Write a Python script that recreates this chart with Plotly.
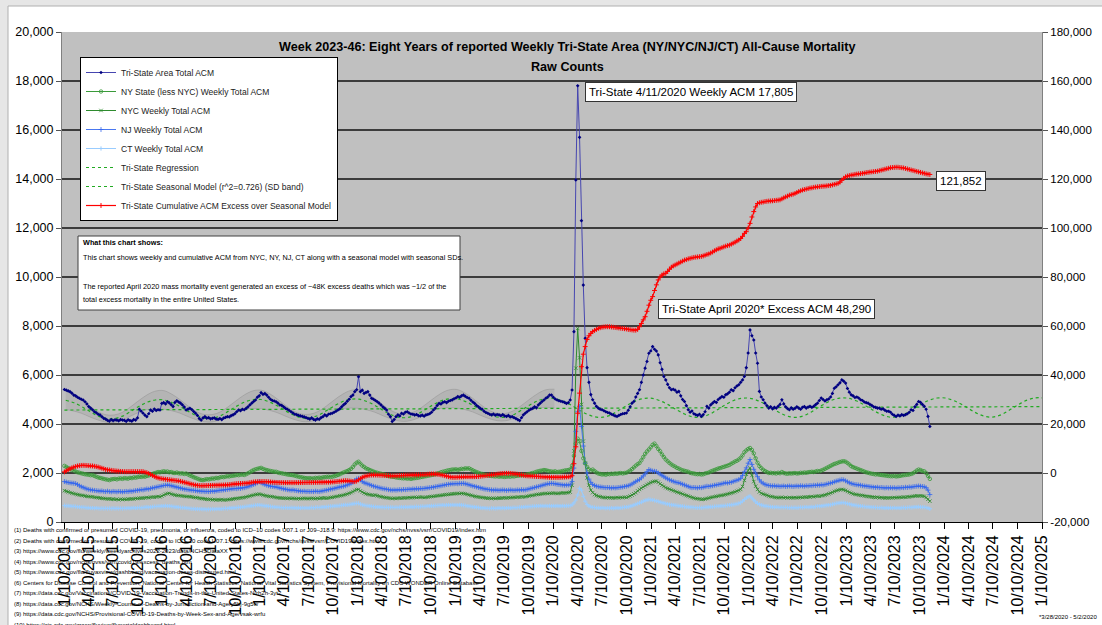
import pandas as pd
import plotly.graph_objects as go

FONT = "Liberation Sans, Arial, Helvetica, sans-serif"

# ---------------- DATA (weekly, week ending Saturdays from 2015-01-10) ----------------
first_week = "2015-01-10"

tri_state = [
    5410, 5380, 5350, 5320, 5260, 5180, 5150, 5090, 5050, 5010, 4980, 4910, 4820,
    4710, 4650, 4580, 4500, 4460, 4400, 4370, 4300, 4230, 4200, 4150, 4120, 4180,
    4140, 4170, 4160, 4130, 4180, 4160, 4150, 4110, 4170, 4140, 4120, 4180, 4160,
    4250, 4600, 4520, 4440, 4360, 4300, 4420, 4570, 4520, 4610, 4550, 4580, 4570,
    4840, 4870, 4820, 4910, 4860, 4790, 4710, 4880, 4950, 4900, 4850, 4780, 4690,
    4570, 4610, 4640, 4590, 4510, 4440, 4350, 4220, 4160, 4250, 4300, 4240, 4260,
    4210, 4230, 4250, 4200, 4190, 4220, 4180, 4240, 4270, 4300, 4290, 4340, 4370,
    4420, 4500, 4570, 4540, 4600, 4580, 4640, 4700, 4780, 4850, 4920, 4980, 5090,
    5150, 5280, 5210, 5240, 5180, 5090, 5010, 4960, 4940, 4910, 4850, 4780, 4760,
    4700, 4640, 4600, 4550, 4500, 4450, 4400, 4380, 4350, 4330, 4310, 4290, 4260,
    4230, 4200, 4250, 4190, 4160, 4210, 4190, 4260, 4300, 4370, 4330, 4400, 4420,
    4440, 4480, 4520, 4570, 4620, 4700, 4780, 4840, 4930, 5010, 5120, 5180, 5320,
    5400, 5930, 5320, 5380, 5250, 5290, 5320, 5180, 5050, 5010, 4960, 4910, 4850,
    4780, 4700, 4640, 4570, 4400, 4300, 4100, 4180, 4300, 4370, 4330, 4440, 4410,
    4480, 4500, 4450, 4410, 4400, 4370, 4390, 4340, 4330, 4360, 4320, 4370, 4390,
    4420, 4480, 4570, 4650, 4760, 4840, 4820, 4880, 4910, 4870, 4930, 4960, 4980,
    5030, 5060, 5120, 5090, 5150, 5180, 5130, 5080, 5050, 4970, 4900, 4840, 4760,
    4700, 4640, 4600, 4520, 4470, 4440, 4400, 4370, 4410, 4360, 4390, 4370, 4340,
    4380, 4330, 4310, 4350, 4290, 4300, 4260, 4220, 4180, 4140, 4260, 4370, 4440,
    4500, 4560, 4610, 4640, 4700, 4660, 4780, 4850, 4920, 4980, 5050, 5100, 5180,
    5180, 5090, 5020, 4980, 4950, 4930, 4910, 4880, 4840, 4870, 4980, 5390, 7770,
    13960, 17805, 15700, 12300, 9670, 7500, 6300, 5700, 5200, 4990, 4850, 4720, 4650,
    4600, 4580, 4540, 4500, 4470, 4450, 4400, 4370, 4330, 4310, 4350, 4390, 4420,
    4430, 4450, 4560, 4700, 4850, 4920, 5100, 5250, 5400, 5700, 6000, 6280, 6550,
    6890, 6980, 7160, 7050, 6980, 6820, 6500, 6230, 5940, 5800, 5620, 5480, 5400,
    5420, 5380, 5300, 5330, 5150, 5000, 4920, 4750, 4580, 4480, 4530, 4420, 4380,
    4350, 4400, 4310, 4380, 4500, 4720, 4650, 4780, 4850, 4920, 4880, 5000, 5060,
    5120, 5090, 5190, 5230, 5300, 5400, 5360, 5480, 5550, 5600, 5700, 5800, 5940,
    6300, 6900, 7840, 7600, 7430, 6900, 6480, 5330, 5100, 4990, 4850, 4750, 4650,
    4700, 4620, 4680, 4650, 4720, 4800, 4990, 4820, 4700, 4630, 4580, 4660, 4600,
    4640, 4700, 4650, 4600, 4680, 4710, 4650, 4690, 4720, 4680, 4720, 4790, 4850,
    4960, 5060, 5000, 4940, 4990, 5020, 5100, 5250, 5460, 5520, 5600, 5680, 5800, 5750,
    5670, 5450, 5300, 5190, 5150, 5080, 5100, 5060, 4990, 4960, 4900, 4870, 4850,
    4800, 4760, 4700, 4680, 4650, 4650, 4600, 4620, 4560, 4520, 4520, 4480, 4400,
    4350, 4310, 4360, 4330, 4380, 4350, 4380, 4420, 4480, 4580, 4550, 4700, 4800,
    4920, 4880, 4800, 4720, 4600, 4310, 3900,
]

ny_less_nyc = [
    2290, 2250, 2200, 2160, 2120, 2100, 2060, 2030, 2010, 1990, 1970, 1950, 1940,
    1930, 1910, 1920, 1880, 1850, 1820, 1800, 1780, 1760, 1740, 1730, 1710, 1740,
    1750, 1760, 1740, 1770, 1780, 1760, 1790, 1780, 1770, 1800, 1790, 1820, 1810,
    1830, 1850, 1840, 1860, 1850, 1880, 1900, 1940, 1960, 1990, 2010, 2040, 2030,
    2050, 2070, 2050, 2060, 2030, 2040, 2010, 2000, 2020, 1990, 1980, 1990, 1960,
    1980, 1940, 1900, 1870, 1830, 1800, 1770, 1740, 1720, 1710, 1730, 1750, 1740,
    1760, 1780, 1770, 1800, 1790, 1820, 1840, 1830, 1850, 1870, 1860, 1880, 1890,
    1900, 1920, 1910, 1930, 1940, 1920, 1950, 1990, 2030, 2080, 2120, 2150, 2170,
    2190, 2210, 2170, 2140, 2120, 2100, 2080, 2070, 2050, 2050, 2020, 2000, 1990,
    1970, 1960, 1940, 1930, 1920, 1910, 1890, 1870, 1850, 1830, 1820, 1800, 1790,
    1780, 1790, 1770, 1780, 1800, 1790, 1810, 1800, 1820, 1830, 1840, 1850, 1840,
    1850, 1870, 1890, 1920, 1950, 1990, 2020, 2050, 2080, 2120, 2170, 2250, 2350,
    2420, 2460, 2380, 2300, 2250, 2190, 2160, 2120, 2090, 2060, 2030, 2010, 1990,
    1970, 1950, 1930, 1900, 1880, 1860, 1850, 1840, 1820, 1810, 1800, 1790, 1780,
    1790, 1770, 1780, 1760, 1780, 1790, 1800, 1810, 1830, 1840, 1860, 1870, 1890,
    1900, 1920, 1930, 1950, 1980, 2000, 2030, 2050, 2070, 2090, 2110, 2120, 2140,
    2140, 2150, 2130, 2150, 2170, 2160, 2190, 2180, 2190, 2150, 2110, 2070, 2040,
    2010, 1980, 1960, 1930, 1920, 1900, 1890, 1880, 1870, 1860, 1870, 1850, 1860,
    1850, 1840, 1850, 1860, 1850, 1870, 1860, 1880, 1890, 1900, 1910, 1920, 1920,
    1940, 1960, 1980, 2000, 2020, 2050, 2070, 2090, 2100, 2120, 2110, 2090, 2070,
    2060, 2050, 2070, 2040, 2050, 2060, 2080, 2100, 2110, 2120, 2150, 2300, 2700,
    3200, 3400, 3300, 2900, 2600, 2400, 2250, 2150, 2100, 2140, 2080, 2020, 1980,
    1960, 1940, 1950, 1930, 1960, 1950, 1970, 1960, 1980, 1970, 1990, 2000, 1980,
    2000, 2010, 2050, 2100, 2160, 2230, 2300, 2360, 2410, 2520, 2650, 2780, 2880,
    2960, 3050, 3150, 3200, 3100, 2980, 2890, 2760, 2650, 2550, 2480, 2410, 2350,
    2300, 2260, 2210, 2180, 2140, 2110, 2090, 2070, 2050, 2010, 1990, 1980, 1960,
    1950, 1960, 1940, 1950, 1980, 2000, 2020, 2060, 2090, 2120, 2150, 2180, 2200,
    2230, 2250, 2280, 2300, 2330, 2380, 2420, 2470, 2500, 2550, 2620, 2720, 2850,
    2920, 2980, 3020, 2940, 2800, 2600, 2420, 2280, 2200, 2130, 2080, 2040, 2000,
    2010, 1990, 2000, 1980, 2010, 1990, 2040, 2000, 1980, 1970, 1990, 1980, 1990,
    2000, 1980, 1990, 2010, 2000, 2020, 2010, 2030, 2040, 2050, 2040, 2060, 2080,
    2070, 2100, 2130, 2170, 2210, 2250, 2290, 2330, 2370, 2390, 2420, 2450, 2470, 2480,
    2460, 2410, 2350, 2280, 2240, 2210, 2180, 2150, 2120, 2090, 2060, 2030, 2010,
    1990, 1970, 1960, 1940, 1950, 1930, 1920, 1910, 1900, 1890, 1880, 1870, 1870,
    1880, 1860, 1870, 1880, 1900, 1910, 1920, 1930, 1940, 1960, 1990, 2040, 2100,
    2140, 2120, 2080, 2070, 2000, 1880, 1760,
]

nyc = [
    1280, 1250, 1230, 1200, 1180, 1160, 1140, 1120, 1100, 1090, 1080, 1060, 1050,
    1040, 1030, 1030, 1010, 1000, 990, 980, 970, 960, 950, 940, 950, 930,
    940, 920, 930, 910, 930, 920, 930, 920, 940, 930, 950, 940, 960,
    960, 970, 980, 970, 990, 1000, 990, 1010, 1020, 1010, 1030, 1040, 1030,
    1060, 1100, 1140, 1160, 1170, 1140, 1120, 1100, 1090, 1080, 1070, 1060, 1050,
    1040, 1040, 1030, 1030, 1010, 1000, 990, 970, 960, 950, 940, 930, 920,
    920, 910, 920, 900, 910, 900, 920, 900, 900, 910, 920, 930, 940,
    950, 960, 970, 980, 990, 1000, 1020, 1040, 1060, 1080, 1100, 1120, 1130,
    1140, 1120, 1100, 1080, 1060, 1050, 1040, 1030, 1020, 1000, 990, 980, 980,
    970, 970, 960, 970, 960, 970, 960, 950, 960, 950, 960, 970, 960,
    950, 960, 970, 960, 950, 970, 960, 980, 970, 990, 970, 980, 1000,
    1010, 1020, 1040, 1050, 1070, 1080, 1100, 1120, 1140, 1170, 1200, 1240, 1290,
    1320, 1330, 1270, 1220, 1180, 1150, 1130, 1110, 1100, 1090, 1100, 1070, 1050,
    1030, 1020, 1000, 990, 980, 970, 960, 970, 960, 970, 980, 970, 990,
    980, 990, 1000, 990, 1000, 1010, 1000, 1010, 1020, 1010, 1000, 1010, 1020,
    1030, 1040, 1050, 1060, 1070, 1080, 1090, 1100, 1110, 1120, 1130, 1140, 1150,
    1150, 1160, 1170, 1160, 1170, 1160, 1150, 1130, 1110, 1090, 1070, 1050, 1030,
    1020, 1010, 1000, 990, 980, 970, 970, 960, 970, 960, 970, 980, 970,
    980, 990, 980, 1000, 990, 1000, 1010, 1000, 1020, 1010, 1030, 1020, 1030,
    1050, 1060, 1080, 1090, 1100, 1120, 1130, 1140, 1150, 1160, 1170, 1160, 1170,
    1170, 1180, 1170, 1160, 1170, 1180, 1190, 1180, 1190, 1200, 1220, 1500, 2900,
    6280, 7900, 6700, 4800, 3300, 2400, 1800, 1500, 1300, 1200, 1120, 1080, 1050,
    1030, 1010, 1000, 990, 1000, 990, 990, 980, 990, 1000, 990, 1000, 1000,
    1010, 1000, 1030, 1060, 1100, 1150, 1200, 1270, 1330, 1380, 1430, 1480, 1530,
    1570, 1610, 1640, 1660, 1670, 1620, 1560, 1500, 1450, 1400, 1370, 1340, 1310,
    1280, 1250, 1220, 1200, 1170, 1140, 1110, 1080, 1060, 1030, 1000, 980, 960,
    950, 940, 920, 930, 940, 960, 980, 1000, 1020, 1030, 1050, 1060, 1080,
    1090, 1100, 1120, 1140, 1160, 1180, 1200, 1230, 1260, 1290, 1330, 1450, 1700,
    1950, 2100, 2210, 1900, 1650, 1460, 1330, 1230, 1170, 1140, 1120, 1090, 1060,
    1040, 1030, 1010, 1000, 990, 1000, 1010, 990, 1000, 990, 1000, 990, 990,
    1000, 990, 1000, 1010, 1000, 1020, 1010, 1030, 1020, 1040, 1030, 1050, 1060,
    1050, 1070, 1080, 1100, 1120, 1150, 1180, 1210, 1250, 1280, 1300, 1320, 1330, 1320,
    1290, 1250, 1210, 1180, 1150, 1130, 1120, 1100, 1090, 1080, 1060, 1050, 1040,
    1030, 1020, 1010, 1000, 1010, 990, 1000, 990, 980, 990, 980, 990, 990,
    1000, 990, 1000, 1010, 1000, 1020, 1010, 1030, 1020, 1040, 1050, 1060, 1070,
    1060, 1070, 1060, 1050, 1000, 930, 850,
]

nj = [
    1650, 1630, 1610, 1600, 1590, 1580, 1570, 1530, 1480, 1440, 1410, 1380, 1350,
    1330, 1310, 1300, 1290, 1280, 1270, 1260, 1270, 1250, 1240, 1260, 1240, 1230,
    1250, 1240, 1230, 1250, 1240, 1230, 1240, 1250, 1240, 1260, 1250, 1270, 1280,
    1290, 1300, 1320, 1310, 1330, 1350, 1340, 1370, 1390, 1400, 1420, 1440, 1450,
    1470, 1490, 1500, 1510, 1500, 1480, 1460, 1440, 1420, 1400, 1380, 1360, 1340,
    1330, 1320, 1310, 1300, 1290, 1280, 1270, 1260, 1250, 1260, 1240, 1250, 1240,
    1250, 1260, 1250, 1270, 1280, 1290, 1300, 1310, 1320, 1330, 1340, 1350, 1360,
    1370, 1360, 1380, 1370, 1390, 1400, 1420, 1440, 1470, 1500, 1530, 1560, 1600,
    1650, 1600, 1560, 1530, 1500, 1480, 1460, 1450, 1440, 1430, 1410, 1390, 1370,
    1350, 1340, 1320, 1310, 1300, 1310, 1290, 1280, 1270, 1260, 1250, 1260, 1240,
    1250, 1240, 1250, 1240, 1260, 1250, 1240, 1260, 1270, 1290, 1300, 1320, 1340,
    1350, 1370, 1390, 1410, 1430, 1440, 1460, 1480, 1510, 1540, 1580, 1620, 1700,
    1760, 1780, 1720, 1650, 1600, 1580, 1550, 1520, 1490, 1460, 1440, 1420, 1400,
    1380, 1360, 1350, 1340, 1320, 1310, 1300, 1310, 1300, 1310, 1320, 1310, 1330,
    1320, 1330, 1340, 1330, 1350, 1340, 1360, 1350, 1370, 1360, 1370, 1380, 1390,
    1400, 1410, 1420, 1440, 1450, 1470, 1480, 1500, 1510, 1530, 1540, 1550, 1560,
    1560, 1570, 1560, 1580, 1570, 1580, 1560, 1540, 1520, 1490, 1470, 1450, 1430,
    1410, 1390, 1370, 1350, 1340, 1330, 1320, 1310, 1300, 1310, 1300, 1290, 1300,
    1310, 1300, 1290, 1300, 1310, 1300, 1290, 1300, 1310, 1300, 1320, 1310, 1310,
    1330, 1350, 1370, 1390, 1410, 1430, 1450, 1470, 1500, 1520, 1540, 1560, 1570,
    1580, 1570, 1560, 1540, 1530, 1520, 1510, 1500, 1510, 1510, 1520, 1650, 2200,
    3700, 4500, 4720, 3900, 3100, 2400, 2000, 1750, 1620, 1530, 1490, 1460, 1440,
    1430, 1420, 1410, 1400, 1410, 1400, 1390, 1400, 1390, 1400, 1410, 1420, 1430,
    1450, 1460, 1480, 1510, 1550, 1600, 1650, 1700, 1730, 1800, 1880, 1960, 2050,
    2140, 2110, 2080, 2070, 2060, 2000, 1950, 1900, 1850, 1800, 1760, 1720, 1690,
    1660, 1630, 1610, 1600, 1570, 1540, 1510, 1480, 1450, 1420, 1400, 1410, 1400,
    1390, 1410, 1400, 1420, 1440, 1460, 1450, 1470, 1480, 1500, 1510, 1530, 1540,
    1560, 1580, 1600, 1590, 1610, 1620, 1650, 1680, 1700, 1730, 1780, 1900, 2050,
    2210, 2400, 2550, 2350, 2150, 2000, 1850, 1720, 1630, 1580, 1530, 1510, 1490,
    1480, 1470, 1480, 1460, 1470, 1450, 1460, 1470, 1450, 1460, 1470, 1460, 1450,
    1460, 1470, 1460, 1480, 1470, 1460, 1480, 1470, 1490, 1480, 1500, 1490, 1510,
    1500, 1520, 1510, 1530, 1550, 1570, 1590, 1610, 1640, 1670, 1690, 1710, 1730, 1720,
    1680, 1640, 1600, 1570, 1550, 1530, 1520, 1510, 1500, 1480, 1470, 1460, 1450,
    1440, 1430, 1420, 1410, 1420, 1400, 1410, 1400, 1390, 1400, 1390, 1400, 1390,
    1400, 1380, 1400, 1390, 1410, 1400, 1420, 1410, 1430, 1420, 1440, 1450, 1460,
    1470, 1460, 1450, 1440, 1400, 1300, 1120,
]

ct = [
    670, 660, 660, 650, 640, 640, 630, 620, 610, 600, 600, 590, 580,
    580, 570, 570, 560, 570, 560, 550, 560, 550, 560, 550, 560, 550,
    560, 550, 560, 550, 560, 550, 560, 560, 570, 560, 570, 580, 570,
    580, 590, 580, 590, 600, 610, 600, 610, 620, 630, 630, 640, 640,
    650, 650, 660, 650, 650, 640, 630, 620, 610, 600, 590, 580, 580,
    570, 560, 550, 540, 540, 530, 530, 520, 530, 520, 520, 510, 520,
    520, 530, 520, 530, 540, 530, 540, 550, 560, 550, 570, 570, 580,
    580, 590, 600, 600, 610, 620, 630, 640, 650, 660, 670, 680, 690,
    690, 680, 670, 660, 650, 640, 630, 620, 610, 600, 600, 590, 590,
    580, 590, 580, 580, 590, 580, 580, 570, 580, 570, 580, 570, 580,
    570, 580, 590, 580, 590, 600, 590, 600, 610, 610, 620, 630, 640,
    640, 650, 660, 660, 670, 680, 690, 700, 700, 710, 720, 740, 750,
    760, 760, 730, 700, 680, 670, 660, 650, 640, 630, 620, 610, 610,
    600, 600, 590, 600, 590, 600, 600, 590, 600, 590, 600, 610, 600,
    610, 600, 610, 620, 610, 620, 630, 620, 630, 640, 630, 640, 650,
    650, 660, 660, 670, 670, 680, 680, 690, 680, 690, 700, 690, 700,
    690, 700, 690, 700, 690, 680, 670, 650, 640, 630, 620, 610, 600,
    590, 580, 570, 570, 560, 560, 550, 560, 560, 550, 560, 570, 560,
    570, 560, 570, 580, 570, 580, 590, 580, 590, 600, 600, 610, 620,
    620, 630, 630, 640, 640, 650, 650, 660, 660, 650, 660, 650, 660,
    650, 660, 650, 660, 650, 650, 660, 650, 660, 660, 670, 700, 780,
    900, 1100, 1374, 1300, 1050, 850, 720, 650, 620, 600, 590, 580, 580,
    570, 580, 570, 560, 570, 560, 570, 560, 570, 580, 570, 580, 590,
    600, 610, 620, 640, 660, 690, 720, 750, 780, 810, 850, 880, 900,
    920, 910, 900, 880, 860, 840, 810, 790, 770, 750, 730, 710, 700,
    690, 680, 670, 660, 650, 640, 630, 620, 610, 600, 600, 590, 590,
    580, 590, 580, 590, 600, 600, 610, 620, 620, 630, 640, 640, 650,
    660, 660, 670, 680, 690, 700, 710, 720, 740, 760, 790, 850, 920,
    980, 1030, 1060, 980, 900, 820, 760, 720, 690, 670, 650, 640, 630,
    620, 610, 600, 610, 600, 590, 600, 590, 600, 590, 580, 590, 580,
    590, 580, 590, 600, 590, 600, 610, 600, 610, 620, 610, 630, 640,
    640, 650, 660, 670, 680, 690, 700, 720, 740, 760, 770, 780, 790, 790,
    770, 750, 730, 710, 690, 680, 670, 660, 650, 640, 630, 620, 620,
    610, 600, 600, 590, 590, 580, 590, 580, 570, 580, 570, 580, 570,
    580, 570, 580, 570, 580, 590, 580, 590, 600, 590, 600, 610, 610,
    620, 610, 600, 600, 590, 570, 540,
]

cum_excess = [
    450, 900, 1350, 1750, 2100, 2400, 2650, 2850, 3000, 3100, 3130, 3100, 3050,
    2980, 2900, 2860, 2750, 2600, 2420, 2200, 1950, 1700, 1450, 1300, 1225, 1100,
    980, 880, 800, 720, 640, 590, 560, 540, 560, 550, 580, 560, 570,
    560, 540, 570, 560, 300, 130, -200, -600, -1000, -1400, -1750, -2000, -2180,
    -2300, -2450, -2550, -2650, -2750, -2850, -2950, -3050, -3130, -3250, -3400, -3600, -3800,
    -4000, -4200, -4400, -4600, -4800, -4950, -5050, -5120, -5170, -5170, -5150, -5130, -5100,
    -5080, -5050, -5020, -5000, -4980, -4950, -4930, -4900, -4880, -4820, -4750, -4650, -4550,
    -4450, -4380, -4330, -4280, -4250, -4220, -4200, -4100, -3950, -3800, -3680, -3600, -3560,
    -3540, -3520, -3500, -3510, -3540, -3600, -3680, -3750, -3800, -3850, -3880, -3900, -3920,
    -3940, -3950, -3950, -3940, -3950, -3960, -3950, -3940, -3930, -3920, -3900, -3880, -3870,
    -3860, -3850, -3840, -3830, -3820, -3810, -3800, -3780, -3760, -3750, -3750, -3740, -3700,
    -3650, -3600, -3520, -3450, -3380, -3300, -3200, -3130, -3180, -3250, -3350, -3450, -3540,
    -3300, -2800, -2300, -1770, -1500, -1250, -1050, -900, -850, -820, -830, -850, -880,
    -920, -960, -1000, -1050, -1100, -1180, -1225, -1200, -1150, -1100, -1050, -1000, -950,
    -900, -870, -840, -820, -810, -800, -790, -760, -720, -680, -640, -580, -520,
    -470, -430, -410, -430, -500, -600, -750, -900, -1100, -1300, -1500, -1650, -1770,
    -1780, -1760, -1700, -1650, -1600, -1560, -1520, -1500, -1500, -1490, -1500, -1480, -1450,
    -1400, -1330, -1250, -1150, -1050, -950, -860, -780, -700, -600, -480, -360, -250,
    -180, -150, -140, -140, -160, -220, -300, -400, -520, -650, -800, -950, -1090,
    -1150, -1200, -1250, -1300, -1350, -1400, -1450, -1500, -1550, -1600, -1650, -1700, -1730,
    -1760, -1770, -1770, -1760, -1770, -1740, -1700, -1650, -1600, -1550, -1500, -1100, 3800,
    10700, 24400, 32600, 43400, 48500, 51600, 54500, 56000, 57000, 57700, 58200, 58600, 59000,
    59300, 59500, 59600, 59700, 59700, 59700, 59600, 59500, 59400, 59300, 59200, 59100, 59000,
    58900, 58800, 58600, 58500, 58400, 58300, 58300, 58600, 59700, 61000, 62500, 63800, 66000,
    68500, 70500, 72000, 74500, 76800, 78800, 80000, 80800, 81300, 81500, 82300, 83200, 84000,
    84500, 84900, 85300, 85700, 86100, 86500, 86900, 87100, 87400, 87600, 87800, 88000, 88100,
    88200, 88300, 88400, 88600, 88900, 89200, 89400, 89800, 90200, 90700, 91100, 91500, 91700,
    92000, 92300, 92600, 92800, 93000, 93400, 93800, 94200, 94700, 95100, 95700, 96600, 97800,
    98500, 100000, 101900, 104500, 106700, 108600, 110000, 110300, 110500, 110600, 110800, 110900, 111000,
    111050, 111100, 111200, 111300, 111400, 111500, 111900, 112300, 112700, 113000, 113400, 113600, 113800,
    114100, 114500, 114900, 115200, 115500, 115700, 115900, 116100, 116300, 116400, 116600, 116700, 116800,
    116900, 117000, 117050, 117100, 117200, 117300, 117400, 117600, 117800, 118000, 118200, 118700, 119500, 120300,
    120900, 121200, 121400, 121600, 121700, 121900, 122000, 122100, 122200, 122300, 122400, 122600, 122700,
    122800, 122900, 123000, 123100, 123200, 123400, 123600, 123800, 124000, 124200, 124400, 124600, 124700,
    124750, 124800, 124800, 124700, 124600, 124500, 124300, 124100, 123900, 123700, 123500, 123300, 123100,
    122900, 122700, 122500, 122300, 122100, 121950, 121852,
]

# Seasonal model: monthly (mid-month) values, Jan 2015 .. Jan 2025
model_first_month = "2015-01-01"
seasonal_model = [
    4970, 4865, 4715, 4510, 4335, 4225, 4220, 4320, 4515, 4715, 4890, 4980,
    4985, 4880, 4730, 4525, 4350, 4240, 4235, 4335, 4530, 4730, 4905, 4995,
    5000, 4895, 4745, 4540, 4365, 4255, 4250, 4350, 4545, 4745, 4920, 5010,
    5015, 4910, 4760, 4555, 4380, 4270, 4265, 4365, 4560, 4760, 4935, 5025,
    5030, 4925, 4775, 4570, 4395, 4285, 4280, 4380, 4575, 4775, 4950, 5040,
    5040, 4935, 4785, 4580, 4405, 4290, 4280, 4380, 4580, 4780, 4955, 5045,
    5045, 4940, 4790, 4585, 4410, 4290, 4280, 4385, 4585, 4785, 4960, 5050,
    5050, 4945, 4795, 4590, 4410, 4290, 4280, 4390, 4590, 4790, 4965, 5055,
    5055, 4950, 4800, 4595, 4415, 4295, 4285, 4395, 4595, 4795, 4970, 5060,
    5060, 4955, 4805, 4600, 4420, 4300, 4290, 4400, 4600, 4800, 4975, 5065,
    5065,
]
# Seasonal standard deviation by calendar month (Jan..Dec)
seasonal_sd = [380, 340, 280, 220, 170, 150, 150, 160, 190, 240, 300, 360]
sd_band_months = 61  # SD band drawn Jan 2015 .. Jan 2020

regression_dates = ["2015-01-10", "2025-01-10"]
regression_vals = [4570, 4710]

x_tick_dates = [
    "2015-01-10", "2015-04-10", "2015-07-10", "2015-10-10",
    "2016-01-10", "2016-04-10", "2016-07-10", "2016-10-10",
    "2017-01-10", "2017-04-10", "2017-07-10", "2017-10-10",
    "2018-01-10", "2018-04-10", "2018-07-10", "2018-10-10",
    "2019-01-10", "2019-04-10", "2019-07-10", "2019-10-10",
    "2020-01-10", "2020-04-10", "2020-07-10", "2020-10-10",
    "2021-01-10", "2021-04-10", "2021-07-10", "2021-10-10",
    "2022-01-10", "2022-04-10", "2022-07-10", "2022-10-10",
    "2023-01-10", "2023-04-10", "2023-07-10", "2023-10-10",
    "2024-01-10", "2024-04-10", "2024-07-10", "2024-10-10",
    "2025-01-10",
]
x_tick_text = [
    "1/10/2015", "4/10/2015", "7/10/2015", "10/10/2015",
    "1/10/2016", "4/10/2016", "7/10/2016", "10/10/2016",
    "1/10/2017", "4/10/2017", "7/10/2017", "10/10/2017",
    "1/10/2018", "4/10/2018", "7/10/2018", "10/10/2018",
    "1/10/2019", "4/10/2019", "7/10/2019", "10/10/2019",
    "1/10/2020", "4/10/2020", "7/10/2020", "10/10/2020",
    "1/10/2021", "4/10/2021", "7/10/2021", "10/10/2021",
    "1/10/2022", "4/10/2022", "7/10/2022", "10/10/2022",
    "1/10/2023", "4/10/2023", "7/10/2023", "10/10/2023",
    "1/10/2024", "4/10/2024", "7/10/2024", "10/10/2024",
    "1/10/2025",
]
left_ticks = [0, 2000, 4000, 6000, 8000, 10000, 12000, 14000, 16000, 18000, 20000]
left_text = ["0", "2,000", "4,000", "6,000", "8,000", "10,000", "12,000",
             "14,000", "16,000", "18,000", "20,000"]
right_ticks = [-20000, 0, 20000, 40000, 60000, 80000, 100000, 120000, 140000, 160000, 180000]
right_text = ["-20,000", "0", "20,000", "40,000", "60,000", "80,000", "100,000",
              "120,000", "140,000", "160,000", "180,000"]

peak_date = "2020-04-11"
peak_value = 17805

footnotes = [
    "(1) Deaths with confirmed or presumed COVID-19, pneumonia, or influenza, coded to ICD\u201310 codes U07.1 or J09\u2013J18.9: https://www.cdc.gov/nchs/nvss/vsrr/COVID19/index.htm",
    "(2) Deaths with confirmed or presumed COVID-19, coded to ICD\u201310 code U07.1: https://www.cdc.gov/nchs/nvss/vsrr/COVID19/index.htm",
    "(3) https://www.cdc.gov/flu/weekly/weeklyarchives2022-2023/data/NCHSDataXX",
    "(4) https://www.cdc.gov/nchs/nvss/vsrr/covid19/excess_deaths.htm",
    "(5) https://www.cdc.gov/flu/fluvaxview/dashboard/vaccination-doses-distributed.html",
    "(6) Centers for Disease Control and Prevention, National Center for Health Statistics. National Vital Statistics System, Provisional Mortality on CDC WONDER Online Database",
    "(7) https://data.cdc.gov/Vaccinations/COVID-19-Vaccination-Trends-in-the-United-States-N/rh2h-3yt2",
    "(8) https://data.cdc.gov/NCHS/Weekly-Counts-of-Deaths-by-Jurisdiction-and-Age/y5bj-9g5w",
    "(9) https://data.cdc.gov/NCHS/Provisional-COVID-19-Deaths-by-Week-Sex-and-Age/vsak-wrfu",
    "(10) https://gis.cdc.gov/grasp/fluview/fluportaldashboard.html",
]

# ---------------- LAYOUT GEOMETRY ----------------
W, H = 1102, 625
ML, MR, MT, MB = 62, 60, 32, 103
PW, PH = W - ML - MR, H - MT - MB


def pxx(px):
    return (px - ML) / PW


def pxy(py):
    return (MT + PH - py) / PH


def weeks(series):
    return pd.date_range(first_week, periods=len(series), freq="7D")


model_dates = pd.date_range(model_first_month, periods=len(seasonal_model), freq="MS") + pd.Timedelta(days=14)
band_dates = model_dates[:sd_band_months]
band_upper = [seasonal_model[k] + seasonal_sd[d.month - 1] for k, d in enumerate(band_dates)]
band_lower = [seasonal_model[k] - seasonal_sd[d.month - 1] for k, d in enumerate(band_dates)]

fig = go.Figure()

# SD band
fig.add_trace(go.Scatter(x=band_dates, y=band_upper, mode="lines", line=dict(width=0.6, color="rgba(130,130,130,0.6)", shape="spline"),
                         showlegend=False, hoverinfo="skip"))
fig.add_trace(go.Scatter(x=band_dates, y=band_lower, mode="lines", line=dict(width=0.6, color="rgba(130,130,130,0.6)", shape="spline"),
                         fill="tonexty", fillcolor="rgba(150,150,150,0.28)", showlegend=False, hoverinfo="skip"))

fig.add_trace(go.Scatter(x=model_dates, y=seasonal_model, mode="lines",
                         name="Tri-State Seasonal Model (r^2=0.726) (SD band)",
                         line=dict(color="#22aa22", width=1.2, dash="dot", shape="spline"), legendrank=7))
fig.add_trace(go.Scatter(x=regression_dates, y=regression_vals, mode="lines",
                         name="Tri-State Regression",
                         line=dict(color="#22aa22", width=1.2, dash="dot"), legendrank=6))

fig.add_trace(go.Scatter(x=weeks(ct), y=ct, mode="lines+markers", name="CT Weekly Total ACM",
                         line=dict(color="#99ccff", width=1),
                         marker=dict(symbol="cross-thin-open", size=3, color="#99ccff", line=dict(width=1, color="#99ccff")),
                         legendrank=5))
fig.add_trace(go.Scatter(x=weeks(nyc), y=nyc, mode="lines+markers", name="NYC Weekly Total ACM",
                         line=dict(color="#2e8b2e", width=1),
                         marker=dict(symbol="x-thin-open", size=3.5, color="#2e8b2e", line=dict(width=0.8, color="#2e8b2e")),
                         legendrank=3))
fig.add_trace(go.Scatter(x=weeks(nj), y=nj, mode="lines+markers", name="NJ Weekly Total ACM",
                         line=dict(color="#4a78f0", width=1),
                         marker=dict(symbol="cross-thin-open", size=3.5, color="#3366ee", line=dict(width=0.8, color="#3366ee")),
                         legendrank=4))
fig.add_trace(go.Scatter(x=weeks(ny_less_nyc), y=ny_less_nyc, mode="lines+markers",
                         name="NY State (less NYC) Weekly Total ACM",
                         line=dict(color="#3a9a3a", width=1),
                         marker=dict(symbol="circle-open", size=3.5, color="#3a9a3a", line=dict(width=0.8, color="#3a9a3a")),
                         legendrank=2))
fig.add_trace(go.Scatter(x=weeks(cum_excess), y=cum_excess, mode="lines+markers", yaxis="y2",
                         name="Tri-State Cumulative ACM Excess over Seasonal Model",
                         line=dict(color="#ff0000", width=1.2),
                         marker=dict(symbol="cross-thin-open", size=3.5, color="#ff0000", line=dict(width=1, color="#ff0000")),
                         legendrank=8))
fig.add_trace(go.Scatter(x=weeks(tri_state), y=tri_state, mode="lines+markers",
                         name="Tri-State Area Total ACM",
                         line=dict(color="#4646b0", width=1),
                         marker=dict(symbol="diamond", size=2.8, color="#000080"),
                         legendrank=1))

shapes = [
    dict(type="rect", xref="paper", yref="paper", x0=pxx(8), x1=pxx(W + 10), y0=pxy(H + 10), y1=pxy(6),
         fillcolor="white", line=dict(color="#b0b0b0", width=1), layer="below"),
    dict(type="rect", xref="paper", yref="paper", x0=0, x1=1, y0=0, y1=1,
         fillcolor="#c0c0c0", line=dict(width=0), layer="below"),
    dict(type="rect", xref="paper", yref="paper", x0=pxx(78), x1=pxx(460), y0=pxy(310), y1=pxy(236),
         fillcolor="white", line=dict(color="#404040", width=1), layer="above"),
]

annotations = [
    dict(xref="paper", yref="paper", x=pxx(567), y=pxy(47), showarrow=False, xanchor="center", yanchor="middle",
         text="<b>Week 2023-46: Eight Years of reported Weekly Tri-State Area (NY/NYC/NJ/CT) All-Cause Mortality</b>",
         font=dict(family=FONT, size=12.6, color="black")),
    dict(xref="paper", yref="paper", x=pxx(567), y=pxy(67), showarrow=False, xanchor="center", yanchor="middle",
         text="<b>Raw Counts</b>", font=dict(family=FONT, size=12.6, color="black")),
    dict(xref="paper", yref="paper", x=pxx(81), y=pxy(243), showarrow=False, xanchor="left", yanchor="middle",
         text="<b>What this chart shows:</b>", font=dict(family=FONT, size=7.3, color="black")),
    dict(xref="paper", yref="paper", x=pxx(81), y=pxy(257), showarrow=False, xanchor="left", yanchor="middle",
         text="This chart shows weekly and cumulative ACM from NYC, NY, NJ, CT along with a seasonal model with seasonal SDs.",
         font=dict(family=FONT, size=7.3, color="black")),
    dict(xref="paper", yref="paper", x=pxx(81), y=pxy(286), showarrow=False, xanchor="left", yanchor="middle",
         text="The reported April 2020 mass mortality event generated an excess of ~48K excess deaths which was ~1/2 of the",
         font=dict(family=FONT, size=7.3, color="black")),
    dict(xref="paper", yref="paper", x=pxx(81), y=pxy(299), showarrow=False, xanchor="left", yanchor="middle",
         text="total excess mortality in the entire United States.",
         font=dict(family=FONT, size=7.3, color="black")),
    dict(xref="x", yref="y", x=peak_date, y=peak_value, showarrow=False, xanchor="left", yanchor="top",
         xshift=7, yshift=4, text="Tri-State 4/11/2020 Weekly ACM 17,805",
         bgcolor="white", bordercolor="#333333", borderwidth=1, borderpad=3,
         font=dict(family=FONT, size=11.5, color="black")),
    dict(xref="paper", yref="paper", x=pxx(658), y=pxy(309), showarrow=False, xanchor="left", yanchor="middle",
         text="Tri-State April 2020* Excess ACM 48,290",
         bgcolor="white", bordercolor="#333333", borderwidth=1, borderpad=3,
         font=dict(family=FONT, size=11.5, color="black")),
    dict(xref="x", yref="y2", x=weeks(cum_excess)[-1], y=cum_excess[-1], showarrow=False,
         xanchor="left", yanchor="middle", xshift=6, yshift=-7,
         text="{:,}".format(cum_excess[-1]),
         bgcolor="white", bordercolor="#333333", borderwidth=1, borderpad=3,
         font=dict(family=FONT, size=11.5, color="black")),
    dict(xref="paper", yref="paper", x=pxx(W - 3), y=pxy(617), showarrow=False, xanchor="right", yanchor="middle",
         text="*3/28/2020 - 5/2/2020", font=dict(family=FONT, size=6, color="black")),
]
for k, line in enumerate(footnotes):
    annotations.append(dict(xref="paper", yref="paper", x=pxx(12), y=pxy(530 + 10.5 * k), showarrow=False,
                            xanchor="left", yanchor="middle", text=line,
                            font=dict(family=FONT, size=6, color="black")))

fig.update_layout(
    width=W, height=H,
    margin=dict(l=ML, r=MR, t=MT, b=MB, pad=0, autoexpand=False),
    paper_bgcolor="#e6e6e6",
    plot_bgcolor="#c0c0c0",
    font=dict(family=FONT, color="black"),
    showlegend=True,
    legend=dict(x=pxx(80), y=pxy(57), xanchor="left", yanchor="top", bgcolor="white",
                bordercolor="black", borderwidth=1, font=dict(family=FONT, size=8.5, color="#222222"),
                tracegroupgap=0, itemwidth=30, traceorder="normal"),
    xaxis=dict(type="date", range=["2015-01-01", "2025-01-10"], tickmode="array",
               tickvals=x_tick_dates, ticktext=x_tick_text, tickangle=-90,
               tickfont=dict(family=FONT, size=16, color="black"), ticks="outside", ticklen=6,
               tickcolor="black", showline=True, linecolor="black", linewidth=1,
               showgrid=False, zeroline=False, automargin=False),
    yaxis=dict(range=[0, 20000], tickmode="array", tickvals=left_ticks, ticktext=left_text,
               tickfont=dict(family=FONT, size=12.5, color="black"), ticks="outside", ticklen=5,
               tickcolor="#555555", showline=True, linecolor="#808080", linewidth=1,
               showgrid=True, gridcolor="#3c3c3c", gridwidth=1.2, zeroline=False, automargin=False),
    yaxis2=dict(range=[-20000, 180000], overlaying="y", side="right", tickmode="array",
                tickvals=right_ticks, ticktext=right_text,
                tickfont=dict(family=FONT, size=11.5, color="black"), ticks="outside", ticklen=5,
                tickcolor="#555555", showline=True, linecolor="#808080", linewidth=1,
                showgrid=False, zeroline=False, automargin=False),
    shapes=shapes,
    annotations=annotations,
    hovermode=False,
)

fig.write_html("out.html", config={"displayModeBar": False, "staticPlot": True})

# remove the default page margin so the figure sits at the window's top-left corner
with open("out.html", "r", encoding="utf-8") as f:
    html = f.read()
html = html.replace("<head>", "<head><style>html,body{margin:0;padding:0;overflow:hidden;}</style>", 1)
with open("out.html", "w", encoding="utf-8") as f:
    f.write(html)
